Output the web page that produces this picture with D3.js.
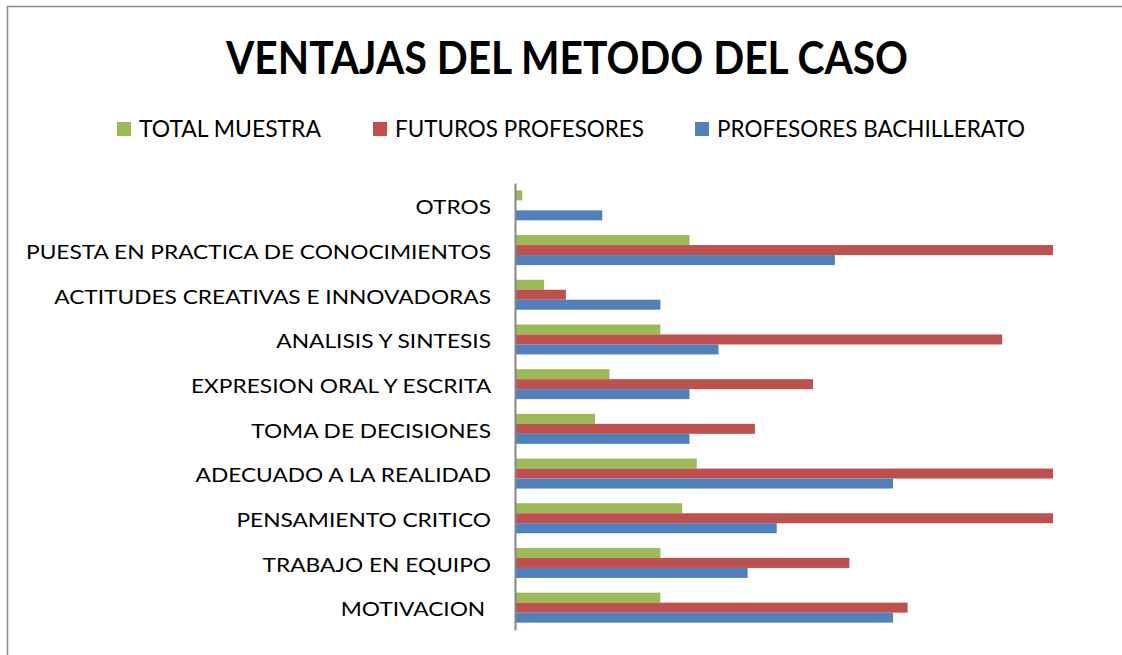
<!doctype html>
<html>
<head>
<meta charset="utf-8">
<script src="https://d3js.org/d3.v7.min.js"></script>
<style>
  body { margin: 0; background: #fff; }
  text { font-family: Lato, "Open Sans", sans-serif; fill: #000; }
</style>
</head>
<body>
<svg width="1122" height="655"></svg>
<script>
// categories, top to bottom
var categories = ["OTROS", "PUESTA EN PRACTICA DE CONOCIMIENTOS", "ACTITUDES CREATIVAS E INNOVADORAS",
  "ANALISIS Y SINTESIS", "EXPRESION ORAL Y ESCRITA", "TOMA DE DECISIONES", "ADECUADO A LA REALIDAD",
  "PENSAMIENTO CRITICO", "TRABAJO EN EQUIPO", "MOTIVACION "];
var seriesNames = ["TOTAL MUESTRA", "FUTUROS PROFESORES", "PROFESORES BACHILLERATO"];
var seriesColors = ["#9BBB59", "#C0504D", "#4F81BD"];

// values (same order as categories)
var totalMuestra = [0.25, 6, 1, 5, 3.25, 2.75, 6.25, 5.75, 5, 5];
var futurosProfesores = [0, 18.5, 1.75, 16.75, 10.25, 8.25, 18.5, 18.5, 11.5, 13.5];
var profesoresBachillerato = [3, 11, 5, 7, 6, 6, 13, 9, 8, 13];
var allSeries = [totalMuestra, futurosProfesores, profesoresBachillerato];
var xMax = 18.5;

var svg = d3.select("svg");

// outer frame (cropped on right and bottom)
svg.append("path")
  .attr("d", "M7.5,655 V6.5 H1122")
  .attr("fill", "none")
  .attr("stroke", "#8a8a8a")
  .attr("stroke-width", 1.5);

// fit text to a target width (source chart font is wider than what we have)
function fit(sel, w) {
  sel.attr("textLength", w).attr("lengthAdjust", "spacingAndGlyphs");
}

// title
var title = svg.append("text")
  .attr("x", 567).attr("y", 74)
  .attr("text-anchor", "middle")
  .style("font-size", "46px").style("font-weight", "bold")
  .text("VENTAJAS DEL METODO DEL CASO");
fit(title, 682);

// legend
var legendX = [117, 373, 695];
var legendW = [182, 249, 308];
seriesNames.forEach(function(s, i) {
  svg.append("rect")
    .attr("x", legendX[i]).attr("y", 122)
    .attr("width", 14).attr("height", 14)
    .attr("fill", seriesColors[i]);
  var t = svg.append("text")
    .attr("x", legendX[i] + 22).attr("y", 137)
    .style("font-size", "23px")
    .text(s);
  fit(t, legendW[i]);
});

// scales
var x = d3.scaleLinear().domain([0, xMax]).range([515, 1053]);
var y0 = d3.scaleBand().domain(categories).range([183, 630])
  .paddingInner(0.33).paddingOuter(0.165);
var y1 = d3.scaleBand().domain(d3.range(3)).range([0, y0.bandwidth()]);

// bars
var groups = svg.append("g").selectAll("g")
  .data(categories)
  .join("g")
  .attr("transform", function(d) { return "translate(0," + y0(d) + ")"; });

groups.selectAll("rect")
  .data(function(d, ci) { return allSeries.map(function(vals, si) { return { s: si, v: vals[ci] }; }); })
  .join("rect")
  .attr("x", x(0))
  .attr("y", function(d) { return y1(d.s); })
  .attr("width", function(d) { return x(d.v) - x(0); })
  .attr("height", y1.bandwidth())
  .attr("fill", function(d) { return seriesColors[d.s]; });

// category axis (line only, no ticks)
var axis = svg.append("g")
  .attr("transform", "translate(515,0)")
  .call(d3.axisLeft(y0).tickSize(0).tickPadding(24));
axis.select(".domain").attr("stroke", "#868686").attr("stroke-width", 2);
axis.selectAll("text")
  .style("font-family", "Lato, 'Open Sans', sans-serif")
  .style("font-size", "19.5px")
  .style("white-space", "pre")
  .attr("dy", "0.45em");

// stretch labels to match width of original font
var labels = axis.selectAll("text");
var longest = 0;
labels.each(function() { longest = Math.max(longest, this.getComputedTextLength()); });
var k = 465 / longest;
labels.each(function() {
  var w = this.getComputedTextLength();
  fit(d3.select(this), w * k);
});
</script>
</body>
</html>
